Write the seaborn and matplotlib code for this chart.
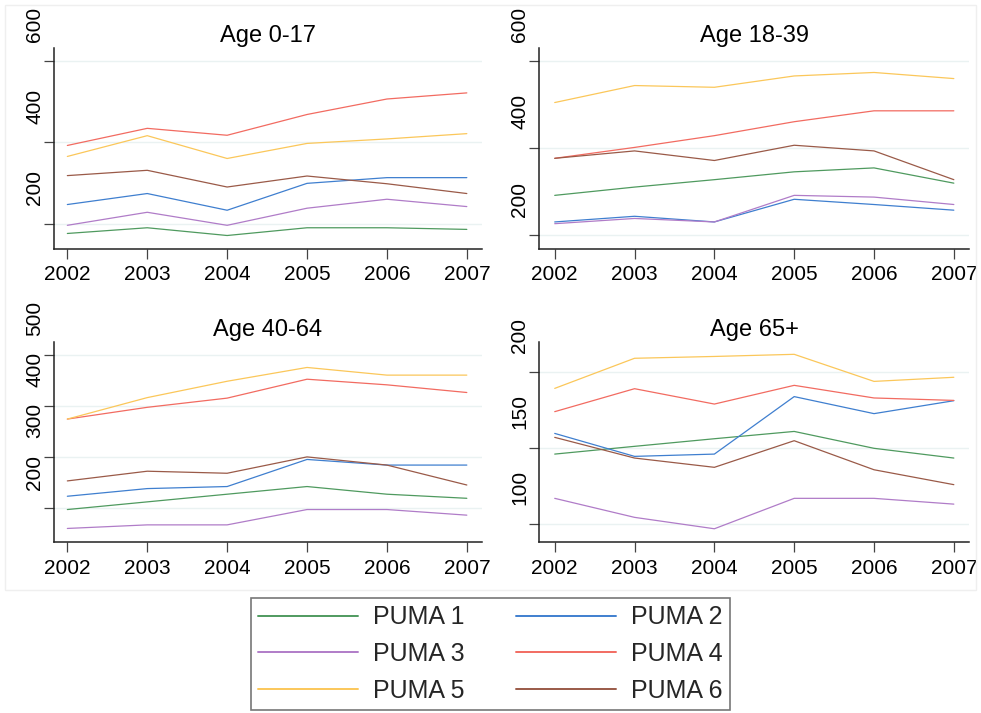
import numpy as np
import pandas as pd
import matplotlib
matplotlib.use("Agg")
import matplotlib.pyplot as plt
import seaborn as sns
from matplotlib.transforms import ScaledTranslation
from matplotlib.lines import Line2D
from matplotlib.patches import Rectangle

# ---------------- data ----------------
years = [2002, 2003, 2004, 2005, 2006, 2007]
pumas = ["PUMA 1", "PUMA 2", "PUMA 3", "PUMA 4", "PUMA 5", "PUMA 6"]
colors = ["#4f9a5f", "#3f7fcf", "#b07cc8", "#f26b61", "#fbc75a", "#9a5a48"]
titles = ["Age 0-17", "Age 18-39", "Age 40-64", "Age 65+"]

# rows: PUMA 1 .. PUMA 6
age_0_17 = [
    [176, 190, 171, 190, 190, 186],
    [247, 274, 233, 299, 313, 313],
    [196, 228, 196, 238, 260, 242],
    [392, 434, 417, 468, 506, 521],
    [365, 416, 360, 397, 408, 421],
    [318, 331, 290, 317, 298, 274],
]
age_18_39 = [
    [291, 310, 327, 345, 354, 319],
    [230, 243, 230, 282, 270, 257],
    [226, 238, 230, 291, 287, 270],
    [376, 401, 428, 460, 485, 485],
    [504, 543, 539, 565, 573, 559],
    [376, 393, 371, 406, 393, 327],
]
age_40_64 = [
    [197, 212, 227, 242, 227, 219],
    [223, 238, 242, 295, 284, 284],
    [160, 167, 167, 197, 197, 186],
    [374, 397, 415, 452, 441, 426],
    [374, 416, 448, 475, 460, 460],
    [253, 272, 268, 300, 284, 245],
]
age_65p = [
    [145.8, 150.9, 155.9, 160.7, 149.6, 143.2],
    [159.4, 144.3, 145.8, 183.6, 172.4, 180.9],
    [116.7, 104.2, 96.7, 116.7, 116.7, 112.9],
    [173.7, 188.8, 178.7, 191.0, 182.7, 181.1],
    [189.0, 208.8, 210.0, 211.4, 193.6, 196.3],
    [156.8, 143.2, 137.1, 154.6, 135.5, 125.7],
]
panels = [age_0_17, age_18_39, age_40_64, age_65p]

y_ticks = [[200, 400, 600], [200, 400, 600], [200, 300, 400, 500], [100, 150, 200]]
y_lims = [(139.1, 632.4), (168.6, 630.3), (132.9, 525.4), (87.8, 219.7)]
x_lims = [(2001.833, 2007.19), (2001.803, 2007.19), (2001.833, 2007.19), (2001.803, 2007.19)]

# ---------------- style ----------------
sns.set_theme(style="white")
plt.rcParams["font.family"] = ["Liberation Sans", "DejaVu Sans"]

W, H = 981, 713
fig = plt.figure(figsize=(W / 100, H / 100), dpi=100)
fig.patch.set_facecolor("white")

# faint outer graph-region frame
fig.add_artist(Rectangle((5 / W, 1 - 590 / H), (976 - 5) / W, (590 - 5) / H,
                         transform=fig.transFigure, fill=False,
                         edgecolor="#efefef", linewidth=1.0))

def px_rect(l, r, t, b):
    return [l / W, 1 - b / H, (r - l) / W, (b - t) / H]

rects = [px_rect(54, 482, 47.5, 248.5), px_rect(539, 969, 47.5, 248.7),
         px_rect(54, 482, 341.7, 542.3), px_rect(539, 969, 341.7, 542.3)]

palette = dict(zip(pumas, colors))

for i, (vals, rect) in enumerate(zip(panels, rects)):
    ax = fig.add_axes(rect)
    rows = []
    for p, series in zip(pumas, vals):
        for yr, v in zip(years, series):
            rows.append({"year": yr, "value": v, "puma": p})
    df = pd.DataFrame(rows)
    for yt in y_ticks[i]:
        ax.axhline(yt, color="#eaf2f2", linewidth=1.0, zorder=0)
    sns.lineplot(data=df, x="year", y="value", hue="puma", palette=palette,
                 hue_order=pumas, linewidth=0.9, legend=False, ax=ax,
                 estimator=None, sort=False)
    ax.set_xlim(*x_lims[i])
    ax.set_ylim(*y_lims[i])
    ax.set_xticks(years)
    ax.set_xticklabels([str(y) for y in years])
    ax.set_yticks(y_ticks[i])
    ax.set_yticklabels([str(t) for t in y_ticks[i]], rotation=90, va="center")
    ax.set_xlabel("")
    ax.set_ylabel("")
    ax.set_title(titles[i], fontsize=17, pad=4, color="black")
    for s in ["top", "right"]:
        ax.spines[s].set_visible(False)
    for s in ["left", "bottom"]:
        ax.spines[s].set_color("#222222")
        ax.spines[s].set_linewidth(1.1)
    ax.tick_params(axis="both", which="major", length=7, width=0.9,
                   color="#444444", labelsize=15, labelcolor="black",
                   left=True, bottom=True)
    ax.tick_params(axis="x", pad=5)
    ax.tick_params(axis="y", pad=0)
    ax.set_facecolor("white")
    # Stata-style label placement: rotated labels sit above their ticks
    for lab in ax.get_yticklabels():
        lab.set_transform(lab.get_transform() +
                          ScaledTranslation(0, 36 / 100, fig.dpi_scale_trans))

# legend filled row-wise: PUMA1|PUMA2, PUMA3|PUMA4, PUMA5|PUMA6
order = [0, 2, 4, 1, 3, 5]
handles = [Line2D([0], [0], color=colors[k], linewidth=1.4) for k in order]
labels = [pumas[k] for k in order]
leg = fig.legend(handles, labels, loc="upper center",
                 bbox_to_anchor=(0.5, 1 - 598 / H), ncol=2, fontsize=18,
                 frameon=True, fancybox=False, shadow=False,
                 handlelength=4.0, handletextpad=0.6, columnspacing=2.05,
                 labelspacing=0.5, borderpad=0.3, borderaxespad=0.0)
leg.get_frame().set_edgecolor("#555555")
leg.get_frame().set_linewidth(1.2)
leg.get_frame().set_facecolor("white")

fig.savefig("out.png", dpi=100, facecolor="white")
